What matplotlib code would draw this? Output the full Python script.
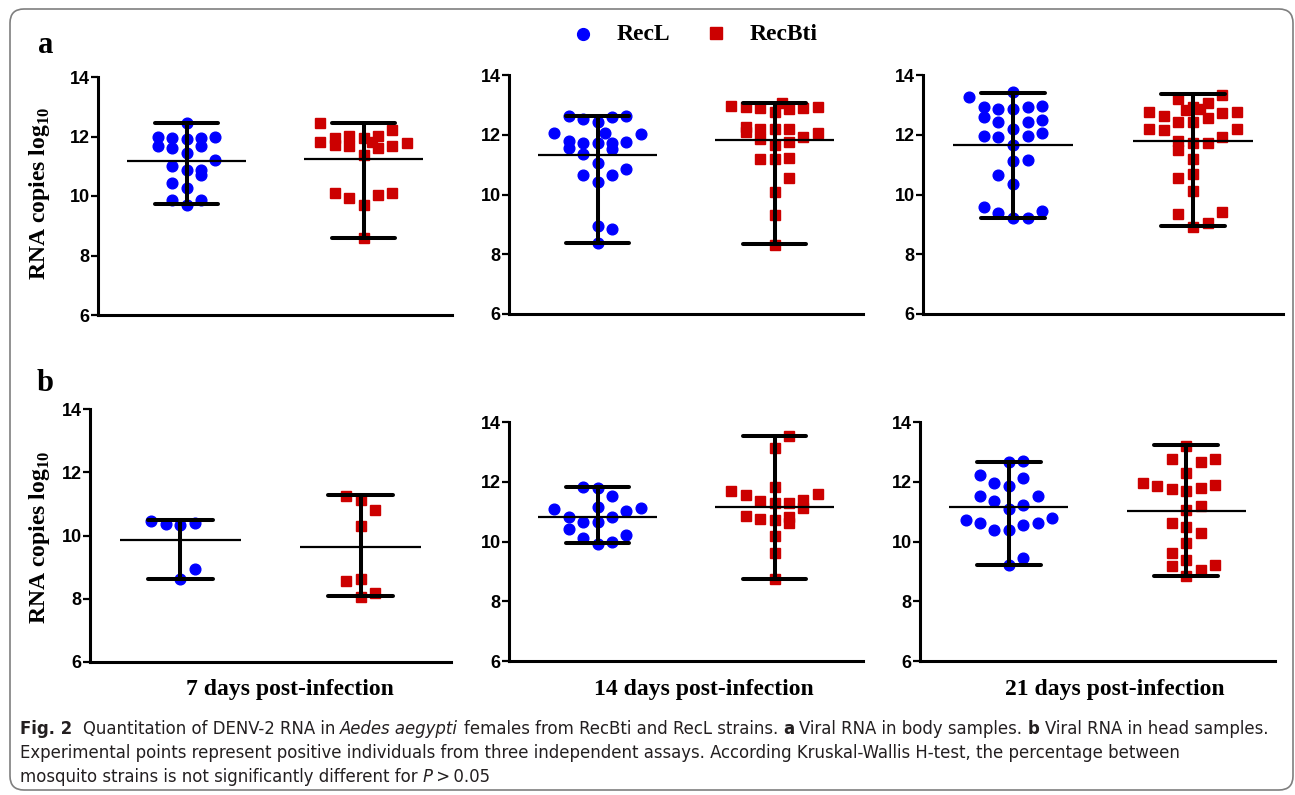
import matplotlib
matplotlib.use("Agg")
import matplotlib.pyplot as plt
from matplotlib.patches import FancyBboxPatch
from matplotlib.lines import Line2D
from matplotlib.transforms import IdentityTransform
from matplotlib import font_manager as fm

# ---------------- data ----------------
strains = ["RecL", "RecBti"]
day_labels = ["7 days post-infection", "14 days post-infection", "21 days post-infection"]
y_ticks = [6, 8, 10, 12, 14]

# values (log10 RNA copies) and swarm column index of every point
body7_recl = [12.47, 12.0, 11.95, 11.93, 11.95, 11.98, 11.69, 11.6, 11.44, 11.69, 11.22,
              11.01, 10.86, 10.86, 10.71, 10.45, 10.28, 9.87, 9.87, 9.70]
body7_recl_col = [0, -2, -1, 0, 1, 2, -2, -1, 0, 1, 2, -1, 0, 1, 1, -1, 0, -1, 1, 0]
body7_recbti = [12.47, 12.23, 11.80, 11.95, 11.72, 12.02, 11.69, 11.95, 12.02, 11.61, 11.80,
                11.69, 11.78, 11.38, 10.09, 9.93, 10.04, 10.09, 9.70, 8.58]
body7_recbti_col = [-3, 2, -3, -2, -2, -1, -1, 0, 1, 1, 0.6, 2, 3, 0, -2, -1, 1, 2, 0, 0]

body14_recl = [12.63, 12.52, 12.44, 12.58, 12.63, 12.07, 12.07, 12.02, 11.79, 11.73, 11.71, 11.71,
               11.77, 11.54, 11.51, 11.34, 11.04, 10.84, 10.65, 10.65, 10.43, 8.94, 8.83, 8.36]
body14_recl_col = [-2, -1, 0, 1, 2, -3, 0.5, 3, -2, -1, 0, 1, 2, -2, 1, -1, 0, 2, -1, 1, 0, 0, 1, 0]
body14_recbti = [12.96, 12.92, 12.88, 12.77, 13.05, 12.85, 12.88, 12.94, 12.27, 12.10, 12.18, 11.85,
                 12.18, 12.18, 11.91, 12.07, 11.66, 11.77, 11.18, 11.18, 11.21, 10.54, 10.09, 9.31, 8.31]
body14_recbti_col = [-3, -2, -1, 0, 0.5, 1, 2, 3, -2, -2, -1, -1, 0, 1, 2, 3, 0, 1, -1, 0, 1, 1, 0, 0, 0]

body21_recl = [13.27, 13.44, 12.94, 12.85, 12.85, 12.92, 12.96, 12.60, 12.44, 12.44, 12.49, 12.18, 11.96,
               11.91, 11.96, 12.05, 11.66, 11.13, 11.15, 10.65, 10.35, 9.57, 9.37, 9.46, 9.20, 9.20]
body21_recl_col = [-3, 0, -2, -1, 0, 1, 2, -2, -1, 1, 2, 0, -2, -1, 1, 2, 0, 0, 1, -1, 0, -2, -1, 2, 0, 1]
body21_recbti = [13.19, 13.33, 13.05, 12.77, 12.63, 12.83, 12.85, 12.94, 12.44, 12.44, 12.55, 12.72, 12.77,
                 12.18, 12.16, 12.18, 11.79, 11.71, 11.73, 11.91, 11.49, 11.18, 10.69, 10.54, 10.12,
                 9.35, 9.40, 9.06, 8.92]
body21_recbti_col = [-1, 2, 1, -3, -2, -0.5, 0.5, 0, -1, 0, 1, 2, 3, -3, -2, 3, -1, 0, 1, 2, -1, 0, 0, -1, 0,
                     -1, 2, 1, 0]

head7_recl = [10.47, 10.36, 10.34, 10.41, 8.95, 8.63]
head7_recl_col = [-2, -1, 0, 1, 1, 0]
head7_recbti = [11.26, 11.13, 10.81, 10.31, 8.55, 8.63, 8.19, 8.06]
head7_recbti_col = [-1, 0, 1, 0, -1, 0, 1, 0]

head14_recl = [11.81, 11.79, 11.51, 11.08, 11.17, 11.12, 11.01, 10.83, 10.83, 10.66, 10.66, 10.41,
               10.22, 10.11, 9.97, 9.92]
head14_recl_col = [-1, 0, 1, -3, 0, 3, 2, -2, 1, -1, 0, -2, 2, -1, 1, 0]
head14_recbti = [13.52, 13.13, 11.81, 11.70, 11.56, 11.59, 11.34, 11.28, 11.30, 11.39, 11.12, 10.85,
                 10.74, 10.72, 10.81, 10.63, 10.17, 9.60, 8.75]
head14_recbti_col = [1, 0, 0, -3, -2, 3, -1, 0, 1, 2, 2, -2, -1, 0, 1, 1, 0, 0, 0]

head21_recl = [12.65, 12.69, 12.21, 12.12, 11.97, 11.86, 11.53, 11.51, 11.36, 11.21, 11.08, 10.72, 10.78,
               10.61, 10.61, 10.55, 10.37, 10.37, 9.45, 9.20]
head21_recl_col = [0, 1, -2, 1, -1, 0, -2, 2, -1, 1, 0, -3, 3, -2, 2, 1, -1, 0, 1, 0]
head21_recbti = [13.18, 12.76, 12.65, 12.76, 12.30, 11.96, 11.87, 11.76, 11.68, 11.79, 11.90, 11.20, 11.06,
                 10.61, 10.50, 10.30, 9.96, 9.60, 9.38, 9.18, 9.03, 9.20, 8.83]
head21_recbti_col = [0, -1, 1, 2, 0, -3, -2, -1, 0, 1, 2, 1, 0, -1, 0, 1, 0, -1, 0, -1, 1, 2, 0]

# summary lines drawn in each group: (mean, min, max)
body7_stats = [(11.18, 9.74, 12.45), (11.24, 8.58, 12.45)]
body14_stats = [(11.32, 8.39, 12.63), (11.81, 8.33, 13.07)]
body21_stats = [(11.66, 9.20, 13.41), (11.79, 8.96, 13.35)]
head7_stats = [(9.87, 8.64, 10.48), (9.63, 8.08, 11.29)]
head14_stats = [(10.83, 9.94, 11.81), (11.17, 8.75, 13.52)]
head21_stats = [(11.14, 9.22, 12.66), (11.02, 8.83, 13.22)]

# ---------------- figure ----------------
W, H = 1295, 795
fig = plt.figure(figsize=(W / 100, H / 100), dpi=100)
fig.patch.set_facecolor("white")

BLUE = "#0000ff"
RED = "#cc0000"
STEP = 0.081
CAP = 0.18
MW = 0.335
TICKFONT = "Liberation Sans"
SERIF = "Liberation Serif"


def px_axes(l, t, r, b):
    return fig.add_axes([l / W, 1 - b / H, (r - l) / W, (b - t) / H])


def draw_panel(ax, groups, stats):
    for xi, ((vals, cols, color, marker, ms), (mean, lo, hi)) in enumerate(zip(groups, stats), start=1):
        xs = [xi + c * STEP for c in cols]
        ax.plot(xs, vals, ls="none", marker=marker, color=color, mec=color, ms=ms,
                zorder=2, clip_on=False)
        ax.plot([xi, xi], [lo, hi], color="k", lw=2.9, zorder=3, solid_capstyle="butt")
        for v in (lo, hi):
            ax.plot([xi - CAP, xi + CAP], [v, v], color="k", lw=2.9, zorder=3,
                    solid_capstyle="round")
        ax.plot([xi - MW, xi + MW], [mean, mean], color="k", lw=1.6, zorder=3,
                solid_capstyle="butt")
    ax.set_xlim(0.5, 2.5)
    ax.set_ylim(6, 14)
    ax.set_xticks([])
    ax.set_yticks(y_ticks)
    ax.set_yticklabels([str(t) for t in y_ticks], fontfamily=TICKFONT, fontweight="bold",
                       fontsize=13)
    ax.tick_params(axis="y", direction="out", length=5, width=1.6, pad=1)
    for s in ("top", "right"):
        ax.spines[s].set_visible(False)
    for s in ("left", "bottom"):
        ax.spines[s].set_linewidth(2.2)
    ax.patch.set_alpha(0)


rects = [
    (98, 77, 452, 315), (509, 75, 863, 314), (923, 75, 1283, 314),
    (90, 409, 451, 662), (509, 422, 863, 661), (920, 422, 1275, 661),
]
panels = [
    ((body7_recl, body7_recl_col), (body7_recbti, body7_recbti_col), body7_stats),
    ((body14_recl, body14_recl_col), (body14_recbti, body14_recbti_col), body14_stats),
    ((body21_recl, body21_recl_col), (body21_recbti, body21_recbti_col), body21_stats),
    ((head7_recl, head7_recl_col), (head7_recbti, head7_recbti_col), head7_stats),
    ((head14_recl, head14_recl_col), (head14_recbti, head14_recbti_col), head14_stats),
    ((head21_recl, head21_recl_col), (head21_recbti, head21_recbti_col), head21_stats),
]
for rect, (l_grp, b_grp, st) in zip(rects, panels):
    ax = px_axes(*rect)
    draw_panel(ax, [(l_grp[0], l_grp[1], BLUE, "o", 7.7), (b_grp[0], b_grp[1], RED, "s", 6.9)], st)


def ftext(x, y, s, **kw):
    return fig.text(x / W, 1 - y / H, s, **kw)


# panel letters
ftext(38, 53, "a", fontfamily=SERIF, fontweight="bold", fontsize=22, va="baseline")
ftext(37, 391, "b", fontfamily=SERIF, fontweight="bold", fontsize=22, va="baseline")

# y labels
plt.rcParams["mathtext.fontset"] = "custom"
plt.rcParams["mathtext.rm"] = "Liberation Serif:bold"
plt.rcParams["mathtext.bf"] = "Liberation Serif:bold"
for yc in (193, 537):
    ftext(40, yc, r"RNA copies log$_{10}$", fontfamily=SERIF, fontweight="bold", fontsize=17,
          rotation=90, ha="center", va="center")

# x labels (day)
for xc, lab in zip((290, 704, 1115), day_labels):
    ftext(xc, 690, lab, fontfamily=SERIF, fontweight="bold", fontsize=17, ha="center", va="center")

# legend
fig.add_artist(Line2D([583 / W], [1 - 34 / H], marker="o", color=BLUE, mec=BLUE, ms=8.5,
                      transform=fig.transFigure))
ftext(617, 35, strains[0], fontfamily=SERIF, fontweight="bold", fontsize=17, va="center")
fig.add_artist(Line2D([716 / W], [1 - 33 / H], marker="s", color=RED, mec=RED, ms=8,
                      transform=fig.transFigure))
ftext(750, 35, strains[1], fontfamily=SERIF, fontweight="bold", fontsize=17, va="center")

# rounded frame
frame = FancyBboxPatch((10, 5), 1283, 781, boxstyle="round,pad=0,rounding_size=14",
                       transform=IdentityTransform(), fill=False, edgecolor="#7f7f7f", lw=1.2)
fig.add_artist(frame)

# ---------------- caption ----------------
cap_family, cap_stretch = "DejaVu Sans", "normal"
ents = [(f.name, f.stretch) for f in fm.fontManager.ttflist]
if any(n == "DejaVu Sans" and s == "condensed" for n, s in ents):
    cap_family, cap_stretch = "DejaVu Sans", "condensed"
elif any(n == "Liberation Sans Narrow" for n, s in ents):
    cap_family, cap_stretch = "Liberation Sans Narrow", "normal"

renderer = fig.canvas.get_renderer()
CAPCOL = "#231f20"

caption_lines = [
    [("Fig. 2", "bold", "normal"), ("  Quantitation of DENV-2 RNA in ", "normal", "normal"),
     ("Aedes aegypti", "normal", "italic"),
     (" females from RecBti and RecL strains. ", "normal", "normal"), ("a", "bold", "normal"),
     (" Viral RNA in body samples. ", "normal", "normal"), ("b", "bold", "normal"),
     (" Viral RNA in head samples.", "normal", "normal")],
    [("Experimental points represent positive individuals from three independent assays. "
      "According Kruskal-Wallis H-test, the percentage between", "normal", "normal")],
    [("mosquito strains is not significantly different for ", "normal", "normal"),
     ("P", "normal", "italic"), ("\u2009>\u20090.05", "normal", "normal")],
]


def rich(x, y, segs, size):
    kw = dict(fontfamily=cap_family, fontstretch=cap_stretch, fontsize=size)
    t1 = fig.text(0, 0, "a a", **kw)
    t2 = fig.text(0, 0, "aa", **kw)
    sp = t1.get_window_extent(renderer).width - t2.get_window_extent(renderer).width
    t1.remove()
    t2.remove()
    made = []
    for s, wt, st in segs:
        lead = len(s) - len(s.lstrip(" "))
        trail = len(s) - len(s.rstrip(" "))
        core = s.strip(" ")
        x += lead * sp
        t = ftext(x, y, core, fontweight=wt, fontstyle=st, va="baseline", ha="left",
                  color=CAPCOL, **kw)
        made.append(t)
        x += t.get_window_extent(renderer).width + trail * sp
    return x, made


end, tmp = rich(20, 734, caption_lines[0], 10)
for t in tmp:
    t.remove()
size = 10 * (1255 / (end - 20))
for i, segs in enumerate(caption_lines):
    rich(20, 734 + 24 * i, segs, size)

fig.savefig("out.png", dpi=100, facecolor="white")
